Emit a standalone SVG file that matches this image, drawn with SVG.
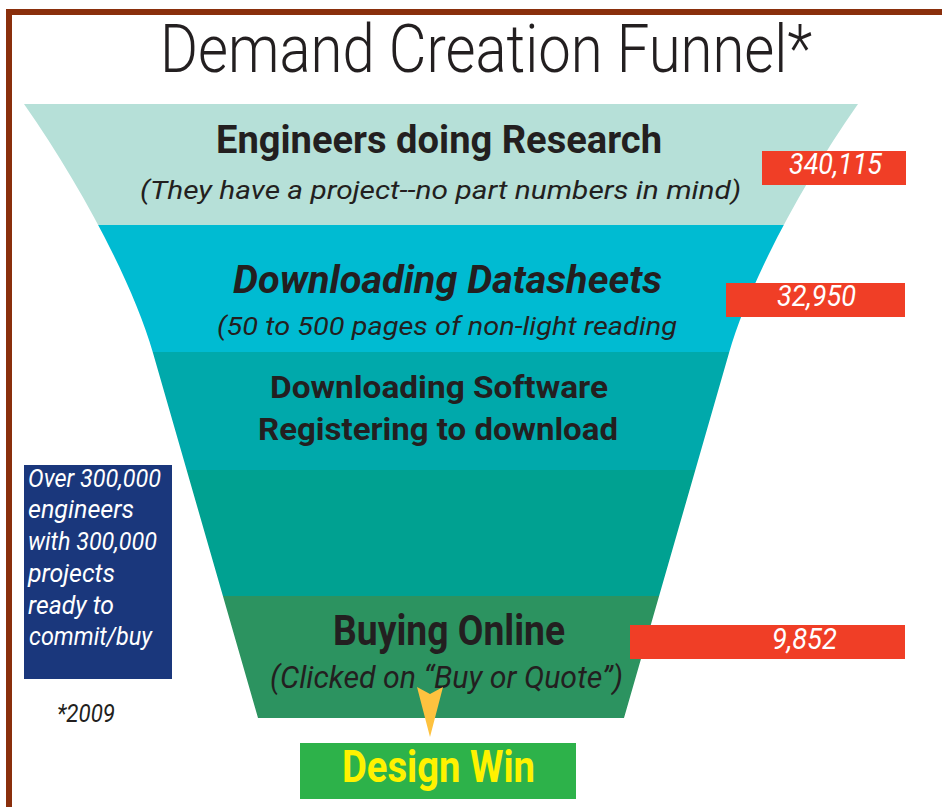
<svg xmlns="http://www.w3.org/2000/svg" width="942" height="807" viewBox="0 0 942 807">
<defs>
<style>
.t{font-family:Roboto,"Liberation Sans",Arial,sans-serif;fill:#231f20}
.b{font-weight:700}
.i{font-style:italic}
.w{fill:#ffffff}
.red{fill:#f03e26}
</style>
<clipPath id="funnelClip">
<path d="M24,104 L858,104 C802,184 749,283 729,353 L624,718 L258,718 L153,353 C133,283 80,184 24,104 Z"/>
</clipPath>
</defs>
<rect x="0" y="0" width="942" height="807" fill="#ffffff"/>
<g id="frame">
<rect x="6" y="9" width="936" height="6" fill="#8a2f0c"/>
<rect x="6" y="9" width="6" height="798" fill="#8a2f0c"/>
</g>
<g id="title">
<text class="t" x="160" y="72" font-size="66" font-weight="300" textLength="652" lengthAdjust="spacingAndGlyphs">Demand Creation Funnel*</text>
</g>
<g id="funnel" clip-path="url(#funnelClip)">
<g id="band-research">
<rect x="0" y="104" width="942" height="121" fill="#b6e0d8"/>
</g>
<g id="band-datasheets">
<rect x="0" y="225" width="942" height="127" fill="#00bbd2"/>
</g>
<g id="band-software">
<rect x="0" y="352" width="942" height="118" fill="#00a9ab"/>
</g>
<g id="band-middle">
<rect x="0" y="470" width="942" height="126" fill="#00a191"/>
</g>
<g id="band-buying">
<rect x="0" y="596" width="942" height="122" fill="#2c9360"/>
</g>
</g>
<g id="label-research">
<text class="t b" x="216" y="153" font-size="39" textLength="446" lengthAdjust="spacingAndGlyphs">Engineers doing Research</text>
<text class="t i" x="140" y="199" font-size="26" textLength="601" lengthAdjust="spacingAndGlyphs">(They have a project--no part numbers in mind)</text>
</g>
<g id="label-datasheets">
<text class="t b i" x="233" y="293" font-size="39" textLength="429" lengthAdjust="spacingAndGlyphs">Downloading Datasheets</text>
<text class="t i" x="217" y="335" font-size="25" textLength="460" lengthAdjust="spacingAndGlyphs">(50 to 500 pages of non-light reading</text>
</g>
<g id="label-software">
<text class="t b" x="270" y="398" font-size="31" textLength="338" lengthAdjust="spacingAndGlyphs">Downloading Software</text>
<text class="t b" x="258" y="440" font-size="31" textLength="360" lengthAdjust="spacingAndGlyphs">Registering to download</text>
</g>
<g id="label-buying">
<text class="t b" x="333" y="645" font-size="42" textLength="232" lengthAdjust="spacingAndGlyphs">Buying Online</text>
<text class="t i" x="270" y="688" font-size="31" textLength="353" lengthAdjust="spacingAndGlyphs">(Clicked on “Buy or Quote”)</text>
</g>
<g id="count-research">
<rect class="red" x="762" y="151" width="144" height="34"/>
<text class="t i w" x="789" y="174" font-size="29" textLength="93" lengthAdjust="spacingAndGlyphs">340,115</text>
</g>
<g id="count-datasheets">
<rect class="red" x="726" y="283" width="179" height="34"/>
<text class="t i w" x="777" y="306" font-size="29" textLength="79" lengthAdjust="spacingAndGlyphs">32,950</text>
</g>
<g id="count-buying">
<rect class="red" x="630" y="625" width="275" height="34"/>
<text class="t i w" x="772" y="649" font-size="29" textLength="65" lengthAdjust="spacingAndGlyphs">9,852</text>
</g>
<g id="engineers-note">
<rect x="24" y="465" width="148" height="214" fill="#1a377c"/>
<text class="t i w" x="28" y="487" font-size="26" textLength="133" lengthAdjust="spacingAndGlyphs">Over 300,000</text>
<text class="t i w" x="28" y="518" font-size="26" textLength="106" lengthAdjust="spacingAndGlyphs">engineers</text>
<text class="t i w" x="28" y="550" font-size="26" textLength="129" lengthAdjust="spacingAndGlyphs">with 300,000</text>
<text class="t i w" x="28" y="582" font-size="26" textLength="87" lengthAdjust="spacingAndGlyphs">projects</text>
<text class="t i w" x="28" y="614" font-size="26" textLength="86" lengthAdjust="spacingAndGlyphs">ready to</text>
<text class="t i w" x="29" y="645" font-size="26" textLength="123" lengthAdjust="spacingAndGlyphs">commit/buy</text>
</g>
<g id="year-note">
<text class="t i" x="57" y="722" font-size="26" textLength="58" lengthAdjust="spacingAndGlyphs">*2009</text>
</g>
<g id="connectors">
<polygon points="417,687 430,694 443,687 430,737" fill="#fec23f"/>
</g>
<g id="design-win">
<rect x="300" y="743" width="276" height="56" fill="#2db24a"/>
<text class="t b" x="342" y="782" font-size="44" style="fill:#fff200" textLength="193" lengthAdjust="spacingAndGlyphs">Design Win</text>
</g>
</svg>
